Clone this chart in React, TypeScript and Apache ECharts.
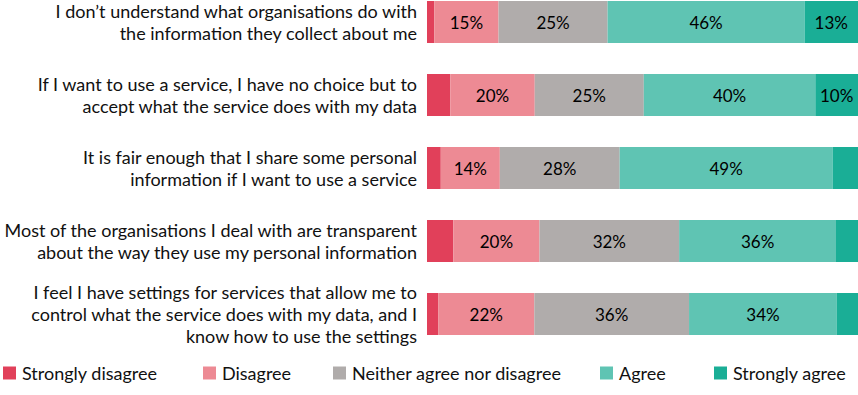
import React, { useEffect, useRef } from "react";
import * as echarts from "echarts";

const categories = [
  "I don\u2019t understand what organisations do with\nthe information they collect about me",
  "If I want to use a service, I have no choice but to\naccept what the service does with my data",
  "It is fair enough that I share some personal\ninformation if I want to use a service",
  "Most of the organisations I deal with are transparent\nabout the way they use my personal information",
  "I feel I have settings for services that allow me to\ncontrol what the service does with my data, and I\nknow how to use the settings",
];

const seriesNames = ["Strongly disagree", "Disagree", "Neither agree nor disagree", "Agree", "Strongly agree"];
const stronglyDisagree = [1.7, 5.4, 3.2, 6.1, 2.6];
const disagree = [14.9, 19.6, 13.7, 20.0, 22.3];
const neither = [25.3, 25.3, 27.8, 32.4, 35.9];
const agree = [45.7, 39.8, 49.4, 36.4, 34.3];
const stronglyAgree = [12.6, 9.9, 6.0, 5.1, 4.9];
const colors = ["#e1405a", "#ed8a94", "#b0acab", "#5fc4b3", "#1aae96"];
const legendLeft = [3, 203, 333, 600, 714];

const FONT = "Lato";

export default function App() {
  const ref = useRef<HTMLDivElement>(null);
  useEffect(() => {
    const chart = echarts.init(ref.current!, null, { renderer: "svg" });
    const values = [stronglyDisagree, disagree, neither, agree, stronglyAgree];
    chart.setOption({
      animation: false,
      textStyle: { fontFamily: FONT },
      grid: { left: 427, right: 0, top: -14.5, height: 365, outerBoundsMode: "none", containLabel: false },
      xAxis: { type: "value", min: 0, max: 100, show: false },
      yAxis: {
        type: "category",
        data: categories,
        inverse: true,
        axisLine: { show: false },
        axisTick: { show: false },
        axisLabel: { color: "#111", fontSize: 18, lineHeight: 22, margin: 10, fontFamily: FONT, align: "right" },
      },
      legend: seriesNames.map((name, i) => ({
        left: legendLeft[i],
        top: 364,
        padding: 0,
        itemWidth: 13,
        itemHeight: 13,
        icon: "rect",
        textStyle: { fontSize: 18, color: "#111", fontFamily: FONT, padding: [0, 0, 0, 1] },
        data: [name],
      })),
      series: seriesNames.map((name, i) => ({
        name,
        type: "bar",
        stack: "total",
        barWidth: 42,
        data: values[i],
        itemStyle: { color: colors[i] },
        label: {
          show: true,
          position: "inside",
          color: "#000",
          fontSize: 17,
          fontFamily: FONT,
          formatter: (p: any) => (p.value >= 8 ? Math.round(p.value) + "%" : ""),
        },
      })),
    });
    return () => chart.dispose();
  }, []);
  return <div ref={ref} style={{ position: "absolute", left: 0, top: 0, width: 858, height: 395 }} />;
}
